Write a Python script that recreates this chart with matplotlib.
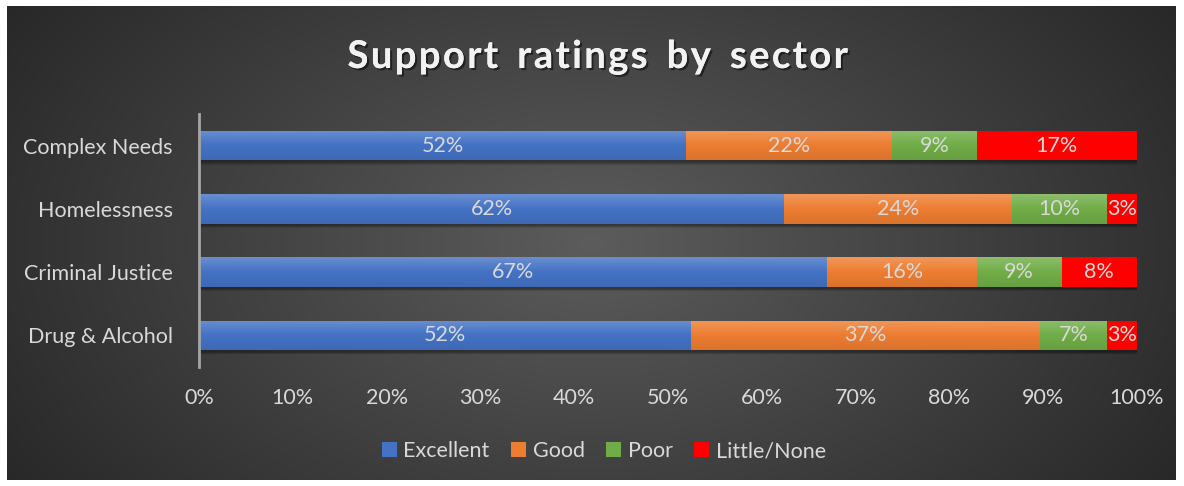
import numpy as np
import matplotlib
matplotlib.use("Agg")
import matplotlib.pyplot as plt
from matplotlib.patches import Rectangle
from matplotlib.colors import LinearSegmentedColormap, to_rgb
import matplotlib.patheffects as pe

categories = ["Complex Needs", "Homelessness", "Criminal Justice", "Drug & Alcohol"]
series_names = ["Excellent", "Good", "Poor", "Little/None"]
excellent = [51.9, 62.4, 67.0, 52.4]
good = [22.0, 24.3, 15.9, 37.3]
poor = [9.0, 10.1, 9.0, 7.1]
little = [17.1, 3.2, 8.1, 3.2]
colors = ["#4472C4", "#ED7D31", "#70AD47", "#FF0000"]
xticks = [0, 10, 20, 30, 40, 50, 60, 70, 80, 90, 100]

W, H = 1184, 486
fig = plt.figure(figsize=(W / 100, H / 100), dpi=100, facecolor="white")

# background with radial gradient
bg = fig.add_axes([7 / W, 6 / H, 1169 / W, 474 / H])
bg.set_axis_off()
ny, nx = 240, 580
yy, xx = np.mgrid[0:ny, 0:nx]
cx, cy = nx * 0.5, ny * 0.5
r = np.sqrt(((xx - cx) / (nx * 0.62)) ** 2 + ((yy - cy) / (ny * 0.95)) ** 2)
r = np.clip(r, 0, 1)
c0 = np.array(to_rgb("#5c5c5c"))
c1 = np.array(to_rgb("#262626"))
img = c0[None, None, :] * (1 - r[..., None]) + c1[None, None, :] * r[..., None]
bg.imshow(img, aspect="auto", extent=[0, 1, 0, 1], interpolation="bilinear")
bg.set_xlim(0, 1)
bg.set_ylim(0, 1)

ax = fig.add_axes([199 / W, 1 - 367 / H, (1137 - 199) / W, (367 - 114) / H])
ax.set_facecolor("none")
ax.patch.set_alpha(0)
ax.set_xlim(0, 100)
ax.set_ylim(3.5, -0.5)

fam = ["Lato", "DejaVu Sans"]
txtc = "#D9D9D9"
fs = 15.5
bar_h = 0.47
ypos = np.arange(len(categories))
data = [excellent, good, poor, little]

def lighten(c, f):
    c = np.array(to_rgb(c))
    return tuple(c + (1 - c) * f)

def darken(c, f):
    c = np.array(to_rgb(c))
    return tuple(c * (1 - f))

# shadows
for i, y in enumerate(ypos):
    total = sum(d[i] for d in data)
    for k in range(4):
        ax.add_patch(Rectangle((0.15, y - bar_h / 2 + 0.03 + k * 0.012), total + 0.1 - k * 0.05, bar_h,
                               facecolor="black", alpha=0.10, edgecolor="none", zorder=1))

left = np.zeros(len(categories))
for s, (vals, col) in enumerate(zip(data, colors)):
    bars = ax.barh(ypos, vals, left=left, height=bar_h, color=col, edgecolor="none",
                   label=series_names[s], zorder=2)
    if col != "#FF0000":
        cmap = LinearSegmentedColormap.from_list("g", [lighten(col, 0.2), col, darken(col, 0.08)])
        grad = np.linspace(0, 1, 64).reshape(-1, 1)
        for b in bars:
            x0, y0 = b.get_x(), b.get_y()
            w, h = b.get_width(), b.get_height()
            im = ax.imshow(grad, cmap=cmap, aspect="auto", extent=[x0, x0 + w, y0 + h, y0],
                           zorder=3, interpolation="bilinear")
            im.set_clip_path(b)
    for i, v in enumerate(vals):
        ax.text(left[i] + v / 2, ypos[i], f"{round(v)}%", ha="center", va="center",
                color=txtc, fontsize=fs, family=fam, zorder=5)
    left = left + np.array(vals)

ax.set_xlim(0, 100)
ax.set_ylim(3.5, -0.5)
ax.set_yticks(ypos)
ax.set_yticklabels(categories, fontsize=fs, color=txtc, family=fam)
ax.set_xticks(xticks)
ax.set_xticklabels([f"{t}%" for t in xticks], fontsize=fs, color=txtc, family=fam)
ax.tick_params(axis="both", length=0)
ax.tick_params(axis="y", pad=19)
ax.tick_params(axis="x", pad=15)
for sp in ["top", "right", "bottom"]:
    ax.spines[sp].set_visible(False)
ax.spines["left"].set_color("#A6A6A6")
ax.spines["left"].set_linewidth(2)
ax.spines["left"].set_zorder(6)

title = "Support ratings by sector"
spaced = "\u2002".join("\u200a".join(w) for w in title.split(" "))
fig.text(598 / W, 1 - 57 / H, spaced,
         ha="center", va="center", fontsize=27.5, fontweight="bold", color="#F2F2F2", family=fam,
         path_effects=[pe.withSimplePatchShadow(offset=(1.5, -1.5), shadow_rgbFace="black", alpha=0.5), pe.Normal()])

handles = [Rectangle((0, 0), 1, 1, facecolor=c) for c in colors]
leg = fig.legend(handles, series_names, loc="center", bbox_to_anchor=(604 / W, 1 - 451 / H), ncol=4,
                 frameon=False, handlelength=0.7, handleheight=0.7,
                 handletextpad=0.3, columnspacing=1.0, prop={"family": fam, "size": fs})
for t in leg.get_texts():
    t.set_color(txtc)

fig.savefig("out.png", dpi=100, facecolor="white")
